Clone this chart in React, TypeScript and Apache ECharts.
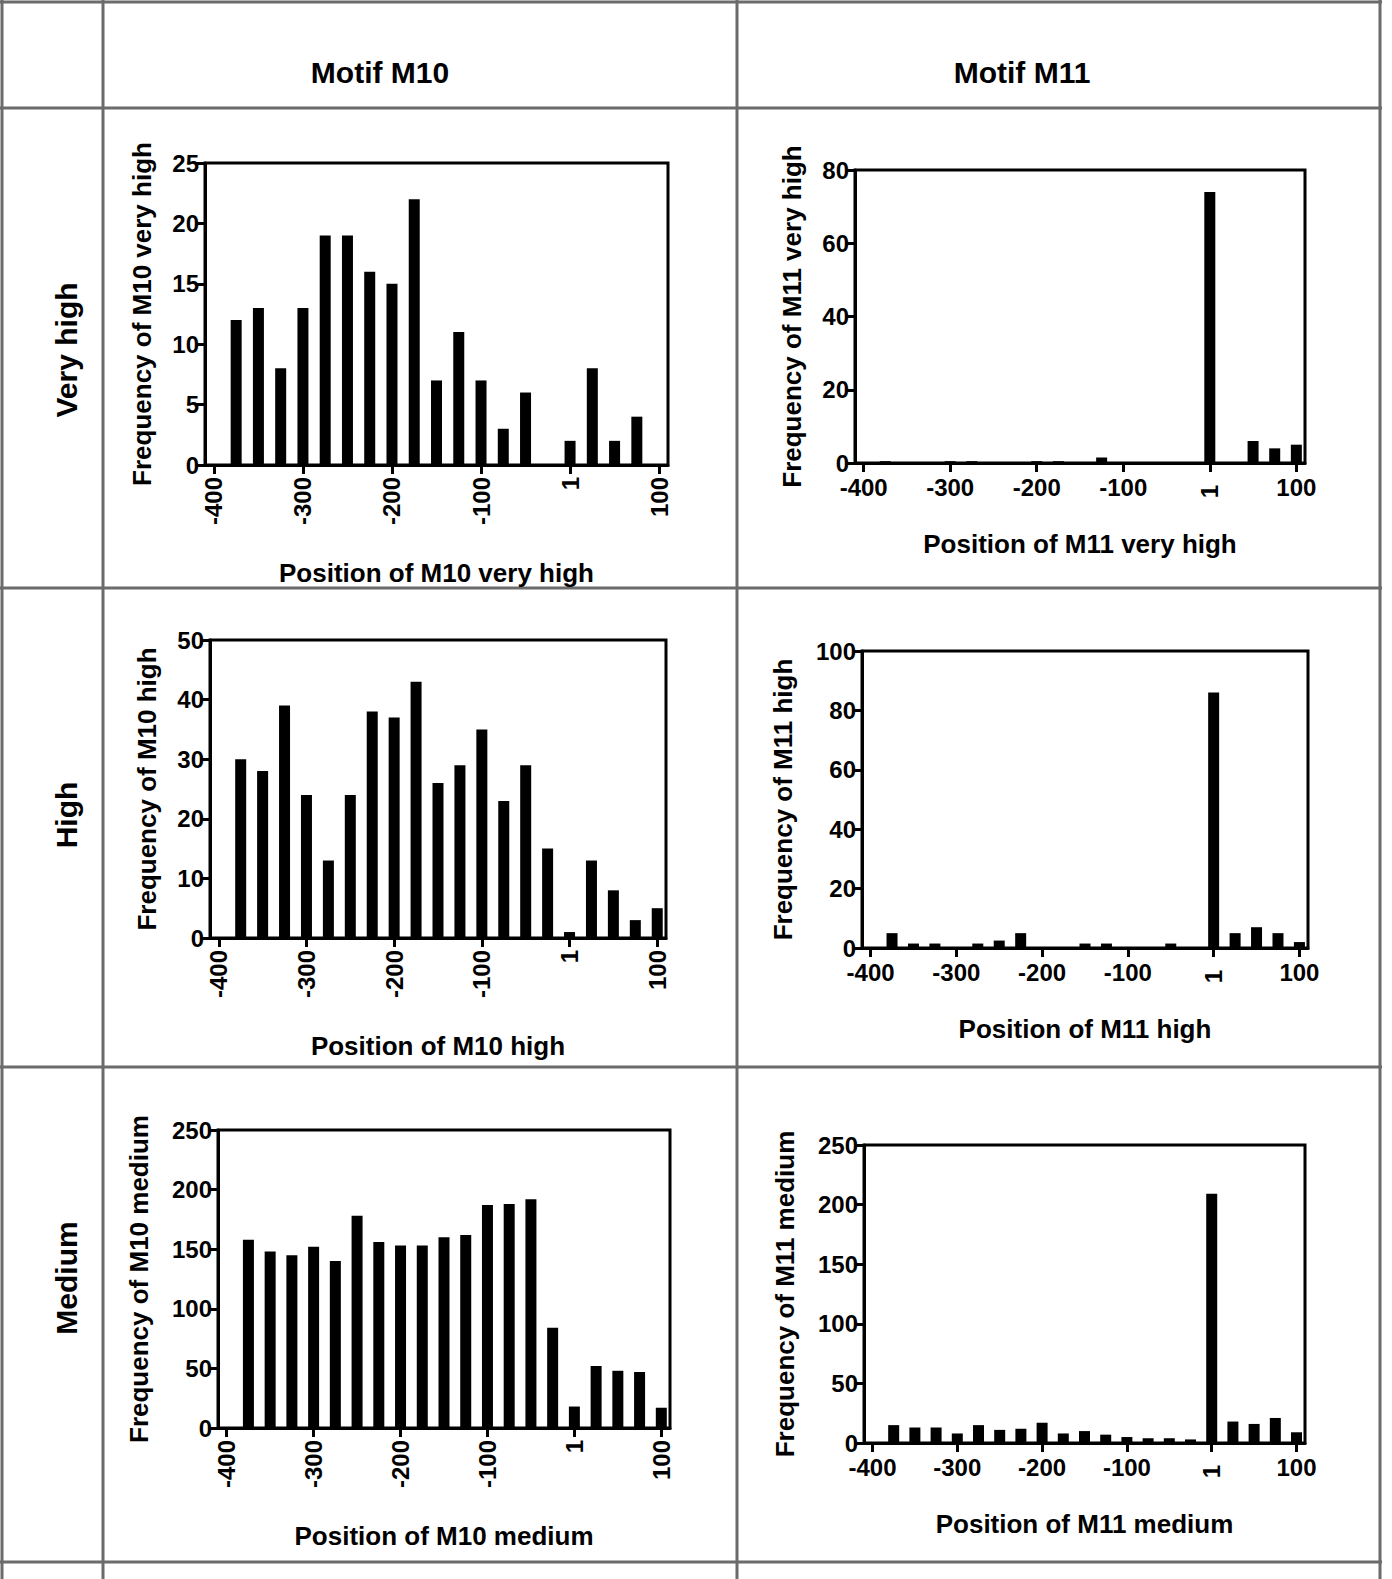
import { useEffect, useRef } from "react";
import * as echarts from "echarts";

const POSITIONS = [-375, -350, -325, -300, -275, -250, -225, -200, -175, -150, -125, -100, -75, -50, -25, 0, 25, 50, 75, 100];
const TICKS = [-400, -300, -200, -100, 0, 100];

const M10_VERY_HIGH = [12, 13, 8, 13, 19, 19, 16, 15, 22, 7, 11, 7, 3, 6, 0, 2, 8, 2, 4, 0];
const M11_VERY_HIGH = [0.5, 0, 0, 0.5, 0.5, 0, 0, 0.5, 0.5, 0, 1.5, 0, 0, 0, 0, 74, 0, 6, 4, 5];
const M10_HIGH = [30, 28, 39, 24, 13, 24, 38, 37, 43, 26, 29, 35, 23, 29, 15, 1, 13, 8, 3, 5];
const M11_HIGH = [5, 1.5, 1.5, 0.3, 1.5, 2.5, 5, 0, 0, 1.5, 1.5, 0.3, 0.3, 1.5, 0, 86, 5, 7, 5, 2];
const M10_MEDIUM = [158, 148, 145, 152, 140, 178, 156, 153, 153, 160, 162, 187, 188, 192, 84, 18, 52, 48, 47, 17];
const M11_MEDIUM = [15, 13, 13, 8, 15, 11, 12, 17, 8, 10, 7, 5, 4, 4, 3, 209, 18, 16, 21, 9];

const COL_TITLES = ["Motif M10", "Motif M11"];
const ROW_TITLES = ["Very high", "High", "Medium"];

const FONT = "Liberation Sans";

const PANELS: any[] = [
  { data: M10_VERY_HIGH, max: 25, step: 5, yName: "Frequency of M10 very high", xName: "Position of M10 very high", box: [205, 163, 668, 465], rot: true },
  { data: M11_VERY_HIGH, max: 80, step: 20, yName: "Frequency of M11 very high", xName: "Position of M11 very high", box: [855, 170, 1305, 463], rot: false },
  { data: M10_HIGH, max: 50, step: 10, yName: "Frequency of M10 high", xName: "Position of M10 high", box: [210, 640, 666, 938], rot: true },
  { data: M11_HIGH, max: 100, step: 20, yName: "Frequency of M11 high", xName: "Position of M11 high", box: [862, 651, 1308, 948], rot: false },
  { data: M10_MEDIUM, max: 250, step: 50, yName: "Frequency of M10 medium", xName: "Position of M10 medium", box: [218, 1130, 670, 1428], rot: true },
  { data: M11_MEDIUM, max: 250, step: 50, yName: "Frequency of M11 medium", xName: "Position of M11 medium", box: [864, 1145, 1305, 1443], rot: false },
];

const W = 1392;
const H = 1579;

export default function App() {
  const ref = useRef<HTMLDivElement>(null);

  useEffect(() => {
    document.body.style.margin = "0";
    if (!ref.current) return;
    const chart = echarts.init(ref.current, null, { renderer: "svg" });

    const grids: any[] = [];
    const xAxes: any[] = [];
    const yAxes: any[] = [];
    const series: any[] = [];
    const label = { color: "#000", fontFamily: FONT, fontWeight: "bold", fontSize: 24 };

    PANELS.forEach((p, i) => {
      const [l, t, r, b] = p.box;
      grids.push({ left: l, top: t, width: r - l, height: b - t, show: true, borderColor: "#000", borderWidth: 3, backgroundColor: "transparent" });
      const xIdx = xAxes.length;
      xAxes.push({
        type: "value", gridIndex: i, min: -410, max: 110, position: "bottom",
        name: p.xName, nameLocation: "middle", nameGap: p.rot ? 95 : 68,
        nameTextStyle: { ...label, fontSize: 26 },
        axisLine: { onZero: false, lineStyle: { color: "#000", width: 3 } },
        axisTick: { show: true, length: 9, lineStyle: { color: "#000", width: 3 }, customValues: TICKS },
        splitLine: { show: false },
        axisLabel: {
          ...label, customValues: p.rot ? TICKS : TICKS.filter((v) => v !== 0),
          rotate: p.rot ? 90 : 0, margin: 12,
          formatter: (v: number) => (v === 0 ? "1" : String(v)),
        },
      });
      if (!p.rot) {
        xAxes.push({
          type: "value", gridIndex: i, min: -410, max: 110, position: "bottom",
          axisLine: { show: false, onZero: false }, axisTick: { show: false }, splitLine: { show: false },
          axisLabel: { ...label, customValues: [0], rotate: 90, margin: 22, formatter: () => "1" },
        });
      }
      const yIdx = yAxes.length;
      yAxes.push({
        type: "value", gridIndex: i, min: 0, max: p.max, interval: p.step, position: "left",
        name: p.yName, nameLocation: "middle", nameGap: p.max >= 100 ? 66 : 50,
        nameTextStyle: { ...label, fontSize: 26 },
        axisLine: { show: true, onZero: false, lineStyle: { color: "#000", width: 3 } },
        axisTick: { show: true, length: 9, lineStyle: { color: "#000", width: 3 } },
        splitLine: { show: false },
        axisLabel: { ...label, margin: 6 },
      });
      series.push({
        type: "bar", xAxisIndex: xIdx, yAxisIndex: yIdx, barWidth: 11,
        itemStyle: { color: "#000" },
        data: POSITIONS.map((x, k) => [x, p.data[k]]),
      });
    });

    const gray = { stroke: "#6b6b6b", lineWidth: 3 };
    const vLines = [2, 103, 737, 1380];
    const hLines = [2, 108, 588, 1067, 1562];
    const graphic: any[] = [
      ...vLines.map((x) => ({ type: "line", shape: { x1: x, y1: 0, x2: x, y2: H }, style: gray })),
      ...hLines.map((y) => ({ type: "line", shape: { x1: 0, y1: y, x2: 1382, y2: y }, style: gray })),
      ...COL_TITLES.map((s, i) => ({
        type: "text", x: [380, 1022][i], y: 72,
        style: { text: s, fill: "#000", font: `bold 30px '${FONT}'`, align: "center", verticalAlign: "middle" },
      })),
      ...ROW_TITLES.map((s, i) => ({
        type: "text", x: 66, y: [350, 815, 1278][i], rotation: Math.PI / 2,
        style: { text: s, fill: "#000", font: `bold 30px '${FONT}'`, align: "center", verticalAlign: "middle" },
      })),
    ];

    chart.setOption({
      animation: false,
      backgroundColor: "#fff",
      grid: grids,
      xAxis: xAxes,
      yAxis: yAxes,
      series,
      graphic,
    });
    return () => chart.dispose();
  }, []);

  return <div ref={ref} style={{ width: W, height: H }} />;
}
